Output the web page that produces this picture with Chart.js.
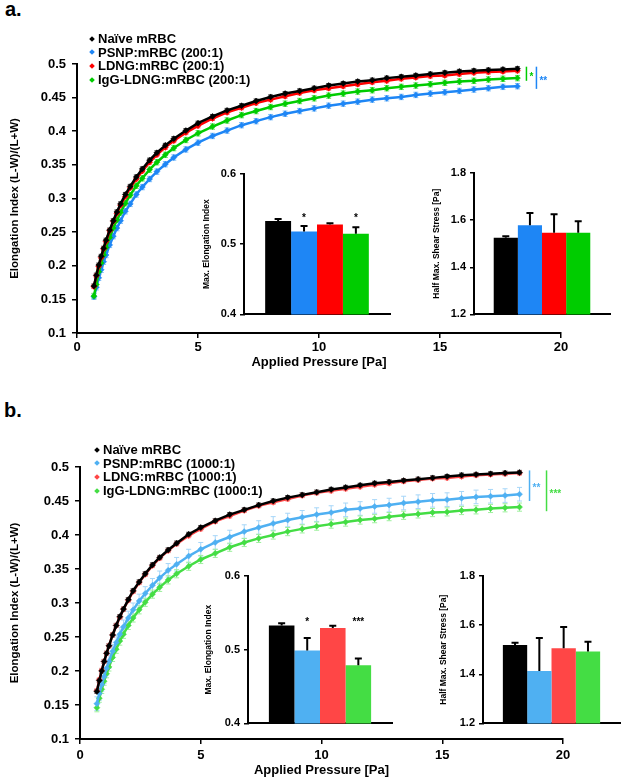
<!DOCTYPE html>
<html><head><meta charset="utf-8">
<script src="https://cdn.jsdelivr.net/npm/chart.js@4/dist/chart.umd.min.js"></script>
<style>
html,body{margin:0;padding:0;background:#fff;}
body{width:625px;height:783px;position:relative;overflow:hidden;font-family:Arial,"Liberation Sans",sans-serif;}
canvas{position:absolute;}
.leg{position:absolute;font:bold 13px Arial,"Liberation Sans",sans-serif;line-height:14px;white-space:nowrap;color:#000;}
.leg .m{display:inline-block;width:4px;height:4px;transform:rotate(45deg);vertical-align:middle;position:relative;top:-1px;}
.panel{position:absolute;font:bold 20px Arial,"Liberation Sans",sans-serif;line-height:24px;color:#000;}
</style></head><body>
<div class="panel" style="left:5px;top:-3px">a.</div>
<div class="panel" style="left:4px;top:398px">b.</div>
<canvas id="mainA" width="625" height="380" style="left:0;top:0;width:625px;height:380px"></canvas>
<canvas id="insA1" width="200" height="165" style="left:195px;top:160px;width:200px;height:165px"></canvas>
<canvas id="insA2" width="195" height="165" style="left:425px;top:160px;width:195px;height:165px"></canvas>
<canvas id="mainB" width="625" height="388" style="left:0;top:395px;width:625px;height:388px"></canvas>
<canvas id="insB1" width="200" height="172" style="left:199px;top:562px;width:200px;height:172px"></canvas>
<canvas id="insB2" width="191" height="172" style="left:434px;top:562px;width:191px;height:172px"></canvas>
<script>
// ---------- DATA ----------
const pressure = [0.7,0.8,0.9,1.0,1.1,1.2,1.35,1.5,1.65,1.8,2.0,2.2,2.45,2.7,3.0,3.3,3.65,4.0,4.5,
  5.0,5.6,6.2,6.8,7.4,8.0,8.6,9.2,9.8,10.4,11.0,11.6,12.2,12.8,13.4,14.0,14.6,15.2,15.8,16.4,17.0,17.6,18.2];

const legendA = ['Naïve mRBC','PSNP:mRBC (200:1)','LDNG:mRBC (200:1)','IgG-LDNG:mRBC (200:1)'];
const legendB = ['Naïve mRBC','PSNP:mRBC (1000:1)','LDNG:mRBC (1000:1)','IgG-LDNG:mRBC (1000:1)'];

const aNaive = [0.170,0.186,0.201,0.214,0.226,0.238,0.253,0.267,0.280,0.292,0.306,0.318,0.332,0.344,0.357,0.368,0.379,0.389,0.401,
  0.412,0.422,0.431,0.438,0.445,0.451,0.456,0.460,0.464,0.468,0.471,0.474,0.476,0.479,0.481,0.483,0.485,0.487,0.489,0.490,0.491,0.492,0.493];
const aPSNP = [0.154,0.168,0.182,0.194,0.206,0.216,0.231,0.244,0.256,0.267,0.281,0.292,0.306,0.317,0.329,0.340,0.351,0.361,0.373,
  0.383,0.393,0.401,0.409,0.415,0.421,0.426,0.430,0.434,0.438,0.441,0.444,0.447,0.449,0.451,0.454,0.456,0.458,0.460,0.462,0.464,0.466,0.467];
const aLDNG = [0.169,0.185,0.199,0.212,0.225,0.236,0.252,0.266,0.278,0.290,0.303,0.316,0.329,0.341,0.354,0.365,0.376,0.386,0.398,
  0.408,0.419,0.428,0.435,0.442,0.447,0.452,0.457,0.461,0.464,0.467,0.470,0.473,0.475,0.478,0.480,0.482,0.483,0.485,0.487,0.488,0.489,0.490];
const aIgG = [0.155,0.172,0.191,0.204,0.216,0.227,0.242,0.256,0.268,0.279,0.293,0.305,0.319,0.330,0.343,0.354,0.365,0.375,0.387,
  0.397,0.407,0.416,0.424,0.430,0.436,0.441,0.445,0.449,0.453,0.456,0.459,0.461,0.464,0.466,0.468,0.470,0.472,0.474,0.475,0.477,0.478,0.479];
const aErr = [0.003,0.004,0.003,0.004];

const bNaive = [0.170,0.186,0.200,0.214,0.226,0.237,0.253,0.267,0.280,0.291,0.305,0.318,0.331,0.343,0.356,0.367,0.378,0.388,0.401,
  0.411,0.421,0.430,0.437,0.444,0.450,0.455,0.459,0.463,0.467,0.470,0.473,0.476,0.478,0.480,0.482,0.484,0.486,0.488,0.489,0.490,0.491,0.492];
const bPSNP = [0.152,0.167,0.180,0.192,0.204,0.214,0.229,0.242,0.254,0.265,0.278,0.290,0.303,0.314,0.326,0.337,0.348,0.357,0.369,
  0.379,0.389,0.397,0.405,0.411,0.417,0.422,0.426,0.430,0.433,0.437,0.439,0.442,0.444,0.447,0.449,0.451,0.452,0.454,0.456,0.457,0.458,0.460];
const bLDNG = [0.171,0.187,0.201,0.214,0.226,0.237,0.253,0.267,0.279,0.291,0.304,0.317,0.330,0.342,0.355,0.366,0.377,0.387,0.399,
  0.409,0.420,0.428,0.436,0.443,0.448,0.453,0.458,0.462,0.465,0.468,0.471,0.474,0.476,0.479,0.481,0.483,0.484,0.486,0.488,0.489,0.490,0.491];
const bIgG = [0.146,0.160,0.173,0.185,0.196,0.206,0.220,0.232,0.244,0.254,0.267,0.278,0.290,0.301,0.313,0.323,0.334,0.343,0.354,
  0.364,0.373,0.382,0.389,0.395,0.400,0.405,0.409,0.413,0.416,0.419,0.422,0.424,0.427,0.429,0.431,0.433,0.434,0.436,0.437,0.439,0.440,0.441];
const bErr = [0.003,0.010,0.003,0.006];

const xTicks = [0,5,10,15,20];
const yTicksMain = [0.1,0.15,0.2,0.25,0.3,0.35,0.4,0.45,0.5];

// inset bars (order: Naive, PSNP, LDNG, IgG-LDNG)
const aMaxEI = [0.533,0.518,0.528,0.515];
const aMaxEIErr = [0.003,0.008,0.002,0.009];
const aMaxEISig = ['','*','','*'];
const aHalf = [1.525,1.578,1.546,1.546];
const aHalfErr = [0.007,0.052,0.079,0.049];
const aHalfSig = ['','','',''];

const bMaxEI = [0.533,0.499,0.5295,0.479];
const bMaxEIErr = [0.003,0.017,0.003,0.009];
const bMaxEISig = ['','*','','***'];
const bHalf = [1.519,1.413,1.506,1.493];
const bHalfErr = [0.009,0.135,0.086,0.039];
const bHalfSig = ['','','',''];

// significance brackets on main charts: [series index, label]
const aBrackets = [[3,'*'],[1,'**']];
const bBrackets = [[1,'**'],[3,'***']];

// ---------- STYLE ----------
const FONT = 'Arial, "Liberation Sans", sans-serif';
const colA = ['#000000','#1e86f5','#ff0000','#00cc00'];
const errColA = ['#444444','#7fbdf9','#ff7070','#66e066'];
const colB = ['#000000','#4fb0f2','#ff4646','#44dd44'];
const errColB = ['#444444','#a6d6f8','#ff9c9c','#9ef09e'];
const orderA = [1,4,2,3];
const orderB = [1,3,2,4];

function buildLegend(names, colors, left, top, step){
  names.forEach((n,i)=>{
    const d=document.createElement('div'); d.className='leg';
    d.style.left=left+'px'; d.style.top=(top+i*step)+'px';
    d.innerHTML='<span class="m" style="background:'+colors[i]+';margin-right:4px"></span>'+n;
    document.body.appendChild(d);
  });
}
buildLegend(legendA, colA, 90, 32, 13.7);
buildLegend(legendB, colB, 95, 443, 13.7);

const errPlugin = {
  id:'errPlugin',
  beforeDatasetsDraw(chart){
    const ctx=chart.ctx, ys=chart.scales.y;
    chart.data.datasets.forEach((ds,i)=>{
      if(ds.err===undefined) return;
      const meta=chart.getDatasetMeta(i);
      ctx.save(); ctx.strokeStyle=ds.errColor; ctx.lineWidth=1;
      ctx.beginPath();
      meta.data.forEach((pt,j)=>{
        const v=ds.data[j].y;
        const y1=ys.getPixelForValue(v+ds.err), y2=ys.getPixelForValue(v-ds.err);
        ctx.moveTo(pt.x,y1); ctx.lineTo(pt.x,y2);
        ctx.moveTo(pt.x-2.5,y1); ctx.lineTo(pt.x+2.5,y1);
        ctx.moveTo(pt.x-2.5,y2); ctx.lineTo(pt.x+2.5,y2);
      });
      ctx.stroke(); ctx.restore();
    });
  },
  afterDatasetsDraw(chart, args, opts){
    if(!opts || !opts.items) return;
    const ctx=chart.ctx, ys=chart.scales.y;
    const ref=chart.data.datasets[0];
    const refTop=ref.data[ref.data.length-1].y + ref.err;
    opts.items.forEach((it)=>{
      const [idx,label]=it.item;
      const ds=chart.data.datasets[idx];
      const meta=chart.getDatasetMeta(idx);
      const last=meta.data[meta.data.length-1];
      const x=last.x+it.dx;
      const yTop=ys.getPixelForValue(refTop);
      const yBot=ys.getPixelForValue(ds.data[ds.data.length-1].y - ds.err);
      ctx.save(); ctx.strokeStyle=ds.borderColor; ctx.lineWidth=1.5;
      ctx.beginPath(); ctx.moveTo(x,yTop); ctx.lineTo(x,yBot); ctx.stroke();
      ctx.fillStyle=ds.borderColor; ctx.font='bold 10px '+FONT; ctx.textBaseline='middle'; ctx.textAlign='left';
      ctx.fillText(label, x+3, (yTop+yBot)/2+3);
      ctx.restore();
    });
  }
};

function mainChart(id, series, colors, errCols, errs, orders, yWidth, xHeight, topPad, rightPad, titlePadBottom, tickPadX, brackets, dxs){
  const datasets = series.map((s,i)=>({
    data: pressure.map((p,j)=>({x:p,y:s[j]})),
    showLine:true, borderColor:colors[i], backgroundColor:colors[i], borderWidth:2.5,
    pointStyle:'rectRot', pointRadius:3, pointBorderWidth:0.5, pointBackgroundColor:colors[i], pointBorderColor:colors[i],
    err:errs[i], errColor:errCols[i], order:orders[i], tension:0
  }));
  return new Chart(document.getElementById(id), {
    type:'scatter',
    data:{datasets},
    plugins:[errPlugin],
    options:{
      responsive:false, animation:false, clip:false,
      layout:{padding:{top:topPad, right:rightPad, left:0, bottom:0}},
      plugins:{legend:{display:false}, tooltip:{enabled:false},
        errPlugin:{items: brackets.map((b,k)=>({item:b, dx:dxs[k]}))}},
      scales:{
        x:{type:'linear', min:0, max:20,
          afterBuildTicks:(s)=>{s.ticks=xTicks.map(v=>({value:v}));},
          ticks:{color:'#000', font:{family:FONT, size:13, weight:'bold'}, padding:tickPadX, maxRotation:0},
          grid:{display:true, drawOnChartArea:false, drawTicks:true, tickLength:5, color:'#000', lineWidth:1.5},
          border:{display:true, color:'#000', width:2},
          title:{display:true, text:'Applied Pressure [Pa]', color:'#000', font:{family:FONT, size:13, weight:'bold'}, padding:{top:0,bottom:titlePadBottom}},
          afterFit:(s)=>{s.height=xHeight;}
        },
        y:{type:'linear', min:0.1, max:0.5,
          afterBuildTicks:(s)=>{s.ticks=yTicksMain.map(v=>({value:v}));},
          ticks:{color:'#000', font:{family:FONT, size:13, weight:'bold'}, padding:6, callback:(v)=>String(Number(v.toFixed(2)))},
          grid:{display:true, drawOnChartArea:false, drawTicks:true, tickLength:5, color:'#000', lineWidth:1.5},
          border:{display:true, color:'#000', width:2},
          title:{display:true, text:'Elongation Index (L-W)/(L+W)', color:'#000', font:{family:FONT, size:11.5, weight:'bold'}, padding:{top:8,bottom:0}},
          afterFit:(s)=>{s.width=yWidth;}
        }
      }
    }
  });
}

const barPlugin = {
  id:'barPlugin',
  afterDatasetsDraw(chart){
    const ctx=chart.ctx, ys=chart.scales.y;
    let maxCap=-Infinity;
    chart.data.datasets.forEach(ds=>{maxCap=Math.max(maxCap, ds.data[0]+ds.err);});
    chart.data.datasets.forEach((ds,i)=>{
      const bar=chart.getDatasetMeta(i).data[0];
      const top=ys.getPixelForValue(ds.data[0]+ds.err);
      ctx.save(); ctx.strokeStyle='#000'; ctx.lineWidth=2;
      ctx.beginPath(); ctx.moveTo(bar.x,bar.y); ctx.lineTo(bar.x,top);
      ctx.moveTo(bar.x-3.5,top); ctx.lineTo(bar.x+3.5,top); ctx.stroke();
      if(ds.sig){
        ctx.fillStyle='#000'; ctx.font='bold 10px '+FONT; ctx.textAlign='center'; ctx.textBaseline='middle';
        ctx.fillText(ds.sig, bar.x, ys.getPixelForValue(maxCap)-1);
      }
      ctx.restore();
    });
  }
};

function insetChart(id, vals, errs, sigs, colors, ymin, ymax, step, title, rightPad, topPad, titlePad){
  const datasets = vals.map((v,i)=>({
    data:[v], err:errs[i], sig:sigs[i], backgroundColor:colors[i], borderWidth:0,
    categoryPercentage:0.71, barPercentage:1
  }));
  return new Chart(document.getElementById(id), {
    type:'bar',
    data:{labels:[''], datasets},
    plugins:[barPlugin],
    options:{
      responsive:false, animation:false,
      layout:{padding:{top:topPad, right:rightPad, left:0, bottom:0}},
      plugins:{legend:{display:false}, tooltip:{enabled:false}},
      scales:{
        x:{grid:{display:false}, ticks:{display:false}, border:{display:true, color:'#000', width:2},
          afterFit:(s)=>{s.height=7;}},
        y:{min:ymin, max:ymax,
          ticks:{stepSize:step, color:'#000', font:{family:FONT, size:11, weight:'bold'}, padding:4, callback:(v)=>v.toFixed(1)},
          grid:{display:true, drawOnChartArea:false, drawTicks:true, tickLength:4, color:'#000', lineWidth:1.5},
          border:{display:true, color:'#000', width:2},
          title:{display:true, text:title, color:'#000', font:{family:FONT, size:8.5, weight:'bold'}, padding:{top:titlePad,bottom:0}},
          afterFit:(s)=>{s.width=49;}
        }
      }
    }
  });
}

mainChart('mainA', [aNaive,aPSNP,aLDNG,aIgG], colA, errColA, aErr, orderA, 77, 47, 64, 64, 10, 2, aBrackets, [9,19]);
mainChart('mainB', [bNaive,bPSNP,bLDNG,bIgG], colB, errColB, bErr, orderB, 80, 44, 72, 62, 5, 4, bBrackets, [10,27]);

insetChart('insA1', aMaxEI, aMaxEIErr, aMaxEISig, colA, 0.4, 0.6, 0.1, 'Max. Elongation Index', 5, 14, 7);
insetChart('insA2', aHalf, aHalfErr, aHalfSig, colA, 1.2, 1.8, 0.2, 'Half Max. Shear Stress [Pa]', 10, 13, 7);
insetChart('insB1', bMaxEI, bMaxEIErr, bMaxEISig, colB, 0.4, 0.6, 0.1, 'Max. Elongation Index', 7, 14, 5);
insetChart('insB2', bHalf, bHalfErr, bHalfSig, colB, 1.2, 1.8, 0.2, 'Half Max. Shear Stress [Pa]', 5, 14, 5);
</script>
</body></html>
